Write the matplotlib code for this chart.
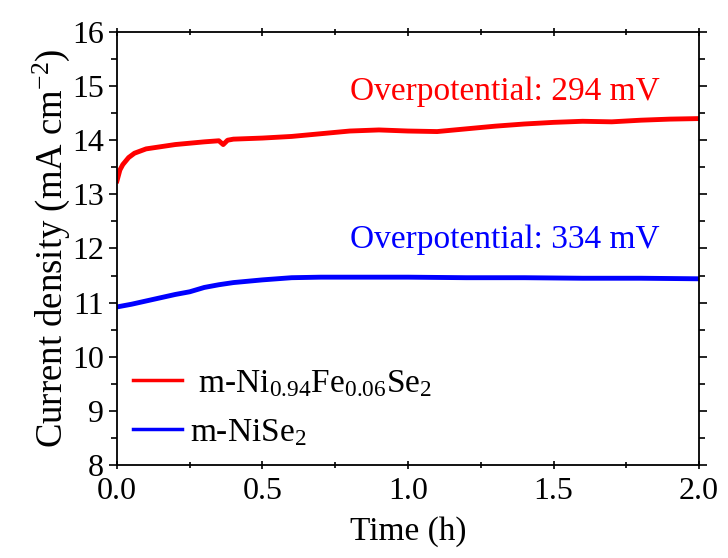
import matplotlib
matplotlib.use("Agg")
import matplotlib.pyplot as plt
from matplotlib.ticker import MultipleLocator

plt.rcParams['font.family'] = ['Liberation Serif', 'DejaVu Serif']
plt.rcParams['mathtext.fontset'] = 'custom'
plt.rcParams['mathtext.rm'] = 'Liberation Serif'
plt.rcParams['mathtext.it'] = 'Liberation Serif:italic'
plt.rcParams['mathtext.bf'] = 'Liberation Serif:bold'

# Data
t_fe = [0.0, 0.01, 0.02, 0.04, 0.06, 0.10, 0.15, 0.20, 0.30, 0.35, 0.365, 0.38, 0.40,
        0.50, 0.60, 0.70, 0.80, 0.90, 1.00, 1.10, 1.20, 1.30, 1.40, 1.50, 1.60, 1.70,
        1.80, 1.90, 2.00]
j_fe = [13.25, 13.45, 13.55, 13.68, 13.76, 13.84, 13.88, 13.92, 13.97, 13.99, 13.92, 14.00, 14.02,
        14.04, 14.07, 14.12, 14.17, 14.19, 14.17, 14.16, 14.21, 14.26, 14.30, 14.33, 14.35, 14.34,
        14.37, 14.39, 14.40]

t_ni = [0.0, 0.05, 0.10, 0.15, 0.20, 0.25, 0.30, 0.35, 0.40, 0.50, 0.60, 0.70, 0.80,
        1.00, 1.20, 1.40, 1.60, 1.80, 2.00]
j_ni = [10.92, 10.97, 11.03, 11.09, 11.15, 11.20, 11.28, 11.33, 11.37, 11.42, 11.46, 11.47, 11.47,
        11.47, 11.46, 11.46, 11.45, 11.45, 11.44]

label_fe = r' m-Ni$_{0.94}$Fe$_{0.06}$Se$_2$'
label_ni = r'm-NiSe$_2$'
note_fe = 'Overpotential: 294 mV'
note_ni = 'Overpotential: 334 mV'

fig = plt.figure(figsize=(7.28, 5.58), dpi=100)
ax = fig.add_axes([0.1607, 0.1667, 0.7995, 0.776])

ax.plot(t_fe, j_fe, color='#ff0000', lw=3.5, label=label_fe)
ax.plot(t_ni, j_ni, color='#0000ff', lw=3.5, label=label_ni)

ax.set_xlim(0, 2.0)
ax.set_ylim(8, 16)
ax.xaxis.set_major_locator(MultipleLocator(0.5))
ax.xaxis.set_minor_locator(MultipleLocator(0.25))
ax.yaxis.set_major_locator(MultipleLocator(1))
ax.yaxis.set_minor_locator(MultipleLocator(0.5))
ax.xaxis.set_major_formatter(plt.FuncFormatter(lambda v, p: f'{v:.1f}'))

ax.tick_params(which='both', direction='out', labelsize=23, width=1.2,
               top=True, right=True)
ax.tick_params(which='major', length=6)
ax.tick_params(which='minor', length=4)
ax.tick_params(axis='x', which='both', top=True, direction='inout', pad=6)
for s in ax.spines.values():
    s.set_linewidth(1.3)

ax.set_xlabel('Time (h)', fontsize=24, labelpad=7)
ax.set_ylabel(r'Current density (mA cm$^{-2}$)', fontsize=26.5, labelpad=0)

ax.text(0.80, 14.89, note_fe, color='#ff0000', fontsize=24, va='center', ha='left')
ax.text(0.80, 12.16, note_ni, color='#0000ff', fontsize=24, va='center', ha='left')

leg = ax.legend(loc='lower left', frameon=False, fontsize=24, handlelength=1.45,
                handletextpad=0.25, labelspacing=0.55, borderaxespad=0.3,
                bbox_to_anchor=(-0.012, -0.015))
for h in leg.get_lines():
    h.set_linewidth(2.5)

fig.savefig('out.png', dpi=100)
